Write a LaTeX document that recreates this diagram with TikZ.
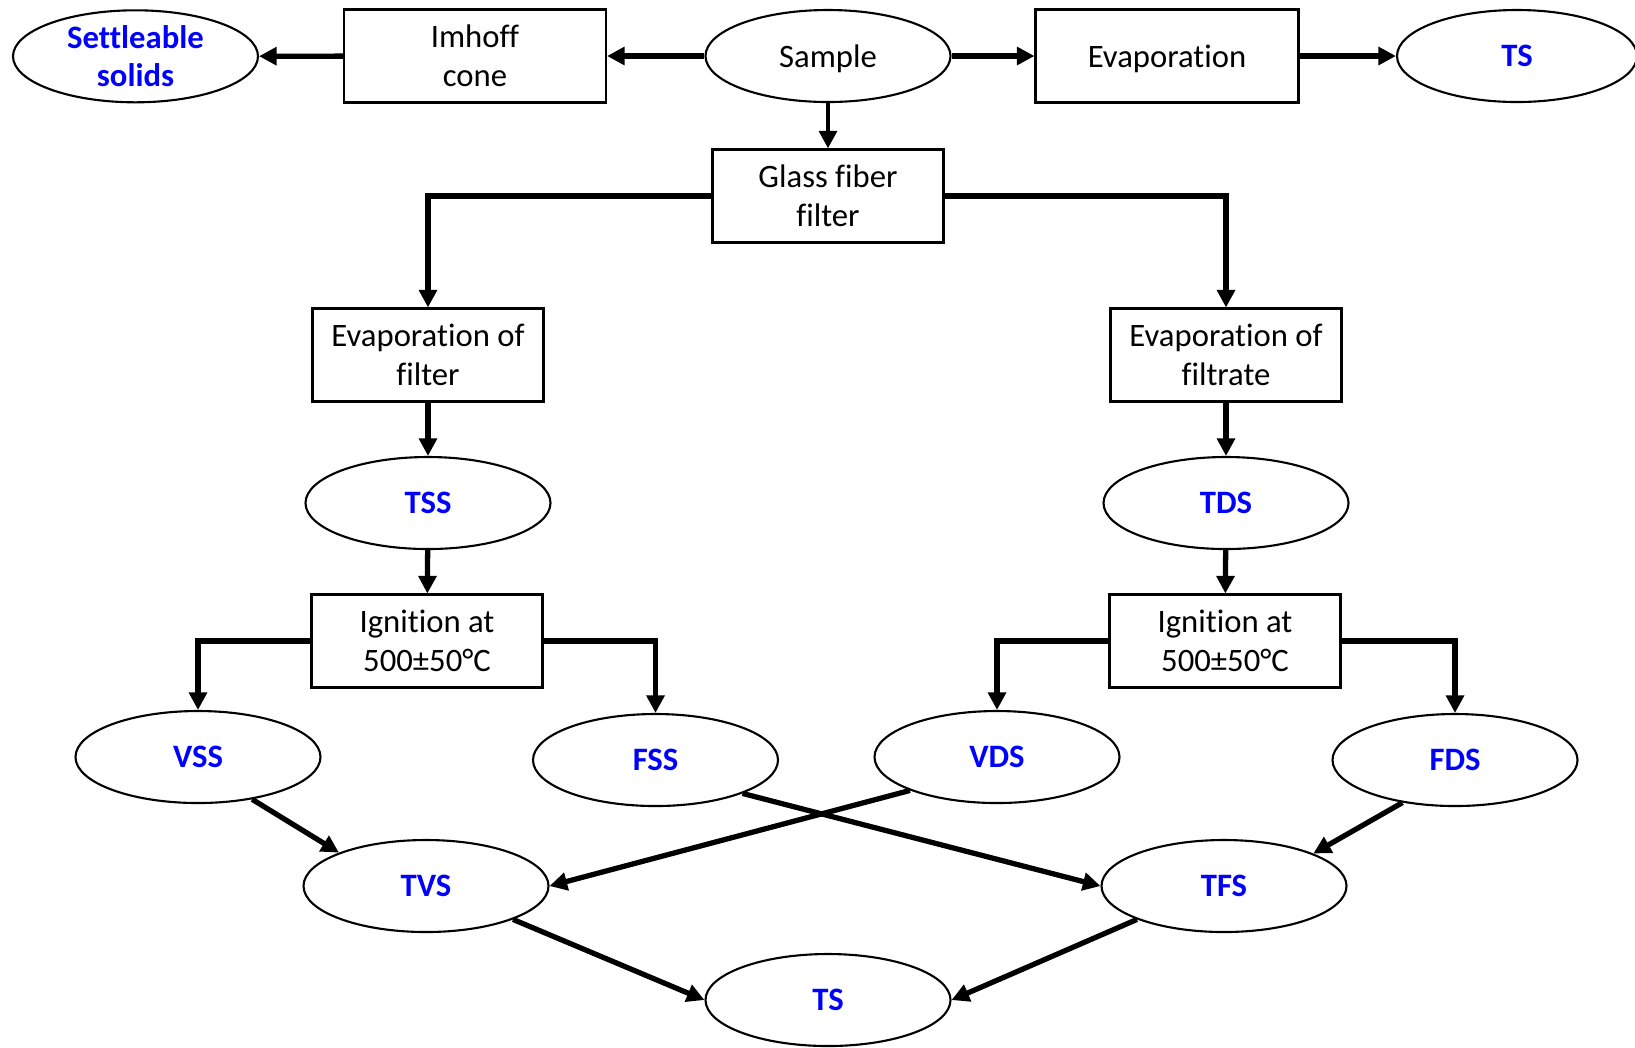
\documentclass[tikz,border=0pt]{standalone}
\usepackage{fontspec}
\setmainfont{Carlito}[Ligatures=NoCommon,Contextuals=NoAlternate,RawFeature=-clig]
\usetikzlibrary{shapes.geometric,arrows.meta}
\begin{document}
\begin{tikzpicture}[
	box/.style={draw,line width=0.6pt,minimum width=2.31cm,minimum height=0.93cm,inner sep=1pt,align=center,font=\fontsize{9.3}{11}\selectfont},
	oval/.style={draw,ellipse,line width=0.6pt,minimum width=2.45cm,minimum height=0.92cm,inner sep=0pt,align=center,font=\fontsize{9.3}{11}\selectfont},
	res/.style={oval,text=blue,font=\fontsize{9.3}{11}\selectfont\bfseries},
	arr/.style={line width=1.5pt,-{Triangle[length=5pt,width=5pt]}}
	]
		\useasboundingbox (0,0) rectangle (16.35,-10.47);
		% top row
		\node[res] (settle) at (1.355,-0.563) {Settleable\\solids};
		\node[box,minimum width=2.62cm] (imhoff) at (4.75,-0.56) {Imhoff\\cone};
		\node[oval,text depth=0pt] (sample) at (8.28,-0.56) {Sample};
		\node[box,minimum width=2.63cm,text depth=0pt] (evap) at (11.67,-0.56) {Evaporation};
		\node[res,minimum width=2.4cm,text depth=0pt] (tstop) at (15.17,-0.56) {TS};
		\node[box] (glass) at (8.28,-1.96) {Glass fiber\\filter};
		% two branches
		\node[box] (evfilter) at (4.28,-3.55) {Evaporation of\\filter};
		\node[box] (evfiltrate) at (12.26,-3.55) {Evaporation of\\filtrate};
		\node[res] (tss) at (4.28,-5.03) {TSS};
		\node[res] (tds) at (12.26,-5.03) {TDS};
		\node[box] (ignl) at (4.27,-6.41) {Ignition at\\500±50°C};
		\node[box] (ignr) at (12.25,-6.41) {Ignition at\\500±50°C};
		\node[res] (vss) at (1.98,-7.57) {VSS};
		\node[res] (fss) at (6.555,-7.60) {FSS};
		\node[res] (vds) at (9.97,-7.57) {VDS};
		\node[res] (fds) at (14.55,-7.60) {FDS};
		\node[res] (tvs) at (4.26,-8.86) {TVS};
		\node[res] (tfs) at (12.24,-8.86) {TFS};
		\node[res] (tsbot) at (8.28,-10.00) {TS};
		% connectors
		\draw[arr] (imhoff) -- (settle);
		\draw[arr] (sample) -- (imhoff);
		\draw[arr] (sample) -- (evap);
		\draw[arr] (evap) -- (tstop);
		\draw[arr,line width=1.2pt] (sample) -- (glass);
		\draw[arr] (glass.west) -| (evfilter.north);
		\draw[arr] (glass.east) -| (evfiltrate.north);
		\draw[arr] (evfilter) -- (tss);
		\draw[arr] (tss) -- (ignl);
		\draw[arr] (evfiltrate) -- (tds);
		\draw[arr] (tds) -- (ignr);
		\draw[arr] (ignl.west) -| (vss.north);
		\draw[arr] (ignl.east) -| (fss.north);
		\draw[arr] (ignr.west) -| (vds.north);
		\draw[arr] (ignr.east) -| (fds.north);
		\draw[arr] (vss.-38) -- (tvs.159);
		\draw[arr] (vds.-159) -- (tvs.east);
		\draw[arr] (fss.-21) -- (tfs.west);
		\draw[arr] (fds.-141) -- (tfs.20);
		\draw[arr] (tvs.-21) -- (tsbot.west);
		\draw[arr] (tfs.-159) -- (tsbot.east);
\end{tikzpicture}
\end{document}
